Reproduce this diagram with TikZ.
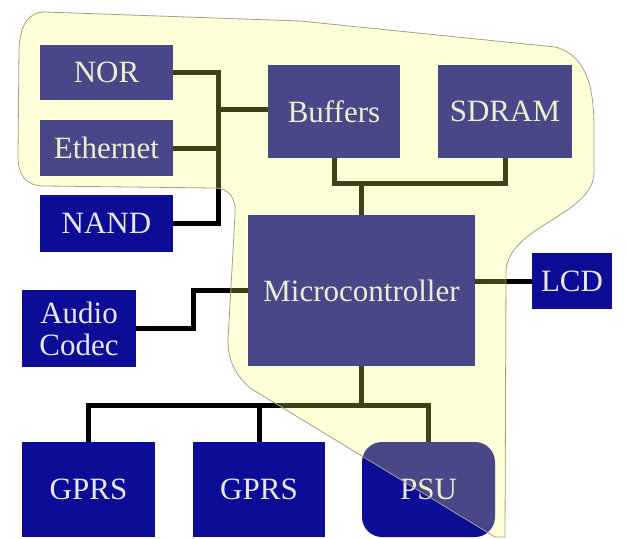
\documentclass[tikz,border=0pt]{standalone}
\usepackage{fontspec}
\setmainfont{Liberation Serif}
\newfontfamily\tms{Liberation Serif}
\definecolor{navy}{RGB}{12,12,150}
\definecolor{boxtext}{RGB}{232,232,245}
\definecolor{regionfill}{RGB}{255,255,100}
\definecolor{regionline}{RGB}{160,160,140}
\begin{document}
\begin{tikzpicture}[x=1pt,y=-1pt,
  blk/.style={fill=navy, text=boxtext, inner sep=0pt, align=center,
    font=\tms\fontsize{31}{32}\selectfont},
  wire/.style={line width=5pt, black}]
\useasboundingbox (0,0) rectangle (626,538);
% boxes
\node[blk, minimum width=133pt, minimum height=55pt] (NOR) at (106.5,72.5) {NOR};
\node[blk, minimum width=133pt, minimum height=56pt] (Eth) at (106.5,148) {Ethernet};
\node[blk, minimum width=133pt, minimum height=57pt] (NAND) at (106.5,223.5) {NAND};
\node[blk, minimum width=132pt, minimum height=93pt] (Buf) at (334,111.5) {Buffers};
\node[blk, minimum width=134pt, minimum height=93pt] (SDRAM) at (505,111.5) {SDRAM};
\node[blk, minimum width=227pt, minimum height=151pt] (MCU) at (361.5,290.5) {Microcontroller};
\node[blk, minimum width=80pt, minimum height=56pt] (LCD) at (572,281) {LCD};
\node[blk, minimum width=114pt, minimum height=77pt] (Audio) at (79,328.5) {Audio\\Codec};
\node[blk, minimum width=133pt, minimum height=95pt] (G1) at (88.5,489.5) {GPRS};
\node[blk, minimum width=132pt, minimum height=95pt] (G2) at (259,489.5) {GPRS};
\node[blk, minimum width=133pt, minimum height=95pt, rounded corners=20pt] (PSU) at (428.5,489.5) {PSU};
% junctions
\coordinate (jb) at (218,109);
\coordinate (jm) at (361.5,183);
\coordinate (ja) at (193,290.5);
\coordinate (jp) at (361.5,405);
% wires
\draw[wire] (NOR.east) -| (jb);
\draw[wire] (Eth.east) -| (jb);
\draw[wire] (NAND.east) -| (jb);
\draw[wire] (jb) -- (jb -| Buf.west);
\draw[wire] (Buf.south) |- (jm);
\draw[wire] (SDRAM.south) |- (jm);
\draw[wire] (jm) -- (MCU.north);
\draw[wire] (LCD.west) -- (LCD.west -| MCU.east);
\draw[wire] (Audio.east) -| (ja) -- (MCU.west);
\draw[wire] (MCU.south) -- (jp);
\draw[wire] (G1.north) |- (jp);
\draw[wire] (G2.north) -- (G2.north |- jp);
\draw[wire] (PSU.north) |- (jp);
% translucent region
\path[fill=regionfill, fill opacity=0.25, draw=regionline, line width=0.8pt]
  (45,12) -- (300,21) -- (555,47)
  .. controls (590,56) and (594,95) .. (594,130) -- (594,172)
  .. controls (594,215) and (510,225) .. (506,270) -- (505,537) -- (495,537)
  -- (250,388) .. controls (236,375) and (228,362) .. (228,340)
  -- (235,215) .. controls (236,198) and (230,189) .. (215,188)
  -- (45,186) .. controls (25,186) and (18,175) .. (18,155)
  -- (19,50) .. controls (20,25) and (28,12) .. (45,12) -- cycle;
\end{tikzpicture}
\end{document}
